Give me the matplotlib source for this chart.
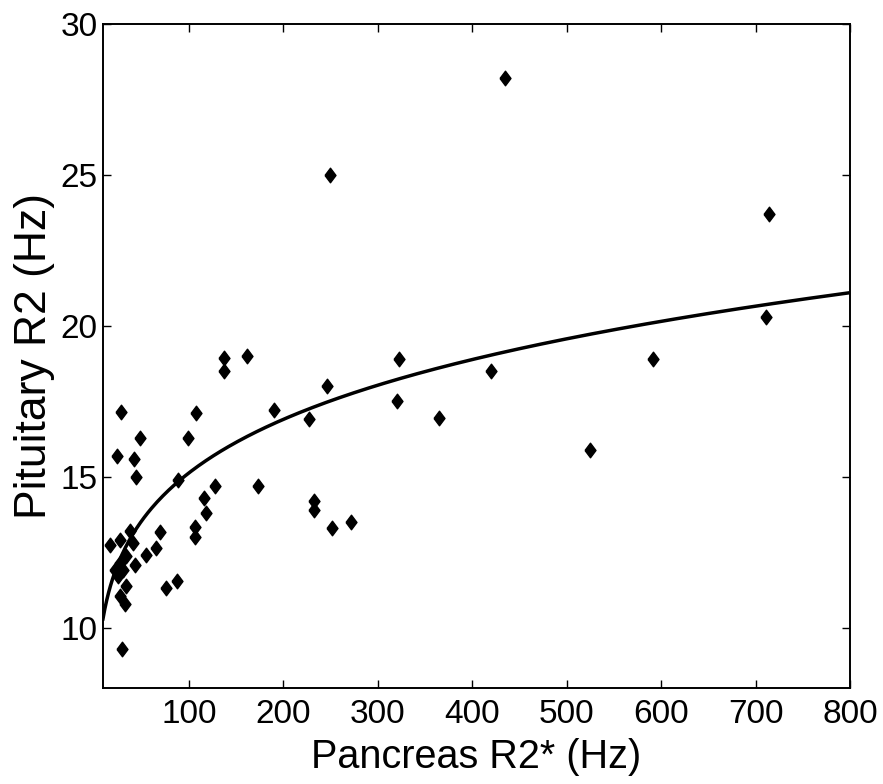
import numpy as np
import matplotlib
matplotlib.use("Agg")
import matplotlib.pyplot as plt

plt.rcParams['font.family'] = ['Liberation Sans', 'DejaVu Sans']

# Pancreas R2* (Hz) vs Pituitary R2 (Hz)
pancreas = [435, 249, 714, 711, 591, 525, 420, 365, 323, 320, 272, 251, 246,
            232, 232, 227, 190, 173, 162, 137, 137, 128, 118, 116, 107, 106,
            106, 99, 88, 87, 76, 69, 65.5, 55, 48.5, 43.5, 41.4, 42.5, 40.7,
            37.3, 33.7, 32.9, 32, 30, 27.6, 27.3, 26.6, 26.6, 24.8, 24, 21.3,
            16, 29.4]
pituitary = [28.2, 25.0, 23.7, 20.3, 18.9, 15.9, 18.5, 16.95, 18.9, 17.5, 13.5,
             13.3, 18.0, 14.2, 13.9, 16.9, 17.2, 14.7, 19.0, 18.95, 18.5, 14.7,
             13.8, 14.3, 17.1, 13.35, 13.0, 16.3, 14.9, 11.53, 11.3, 13.16,
             12.65, 12.42, 16.3, 15.0, 15.6, 12.09, 12.8, 13.19, 12.36, 11.37,
             10.8, 11.92, 17.15, 12.9, 12.14, 11.06, 11.7, 15.7, 11.92, 12.75,
             9.3]

# power-law fit y = a * x^b
fit_a = 7.24
fit_b = 0.16

# diamond a bit wider than matplotlib's thin 'd'
diamond = [(-0.75, 0), (0, 1), (0.75, 0), (0, -1), (-0.75, 0)]

fig = plt.figure(figsize=(8.83, 7.84), dpi=100)
ax = fig.add_axes([0.1166, 0.1224, 0.846, 0.847])

xs = np.linspace(9, 800, 400)
ax.plot(xs, fit_a * xs ** fit_b, color='black', lw=2.5)
ax.plot(pancreas, pituitary, linestyle='none', marker=diamond, ms=10.5,
        color='black', mec='black')

ax.set_xlim(9, 800)
ax.set_ylim(8, 30)
ax.set_xticks([100, 200, 300, 400, 500, 600, 700, 800])
ax.set_yticks([10, 15, 20, 25, 30])
ax.tick_params(direction='in', length=6, width=1, top=True, right=True,
               labelsize=24, pad=8)
ax.tick_params(axis='y', pad=4)
for s in ax.spines.values():
    s.set_linewidth(1.4)

ax.set_xlabel('Pancreas R2* (Hz)', fontsize=28.5, labelpad=6)
ax.set_ylabel('Pituitary R2 (Hz)', fontsize=32, labelpad=4)

fig.savefig('out.png', dpi=100)
